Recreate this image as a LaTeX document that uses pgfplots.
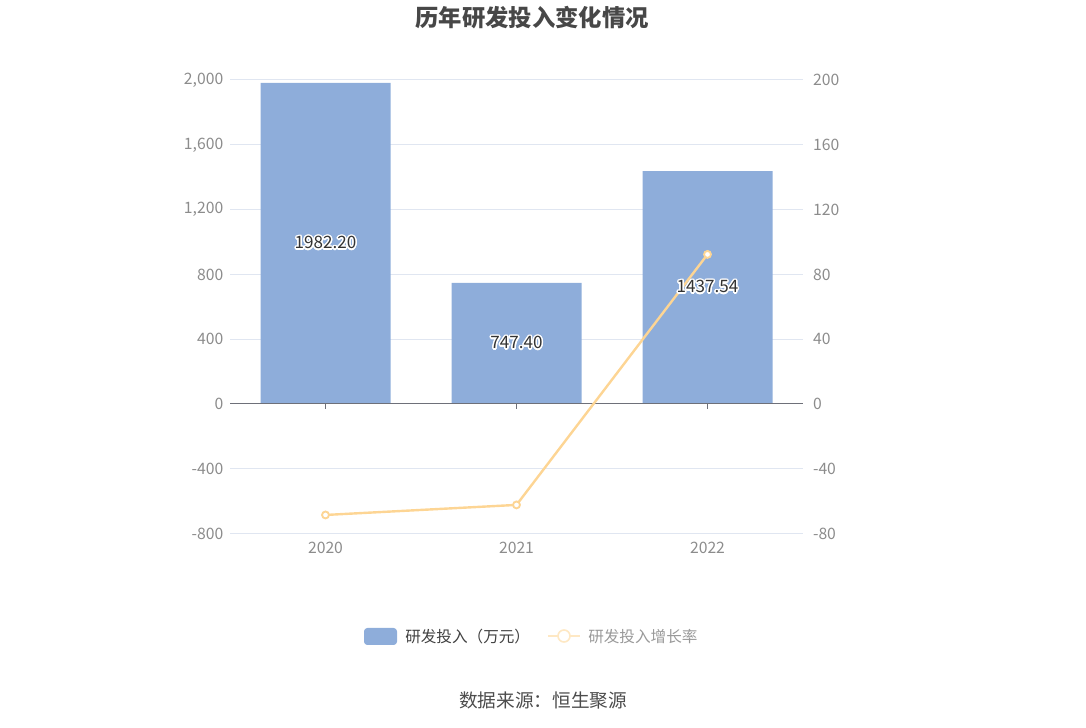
\documentclass[border=0pt]{standalone}
\usepackage{fontspec}
\setmainfont{Noto Sans CJK SC}
\usepackage{pgfplots}
\pgfplotsset{compat=1.18}
\usepackage{contour}
\contourlength{1.1pt}
\contournumber{16}

\definecolor{barblue}{HTML}{8EADDA}
\definecolor{lineorange}{HTML}{FDD594}
\definecolor{gridc}{HTML}{E0E6F1}
\definecolor{tickc}{HTML}{8C8C8C}
\definecolor{axisc}{HTML}{6E7079}

\begin{document}
\begin{tikzpicture}
\path[use as bounding box] (0pt,0pt) rectangle (814.5pt,546pt);

% title
\node[font=\bfseries\fontsize{17.5}{20}\selectfont, text=black!72] at (399pt,532.5pt) {历年研发投入变化情况};

% left axis: bars
\begin{axis}[
    at={(172.5pt,145.8pt)}, anchor=south west,
    scale only axis, width=429.75pt, height=340.2pt,
    xmin=-0.5, xmax=2.5,
    ymin=-800, ymax=2000,
    xtick={0,1,2}, xticklabels={2020,2021,2022},
    ytick={-800,-400,...,2000},
    axis line style={draw=none},
    major tick length=0pt,
    ymajorgrids, grid style={color=gridc, line width=0.75pt},
    tick label style={font=\fontsize{11.8}{13}\selectfont, text=tickc},
    /pgf/number format/assume math mode=true,
    /pgf/number format/1000 sep={,},
    yticklabel style={xshift=-1.5pt},
    xticklabel style={yshift=-2.5pt},
    clip=false,
]
\addplot[ybar, bar width=97.5pt, fill=barblue, draw=none]
    coordinates {(0,1982.20) (1,747.40) (2,1437.54)};
\draw[color=axisc, line width=0.75pt] (axis cs:-0.5,0) -- (axis cs:2.5,0);
\draw[color=axisc, line width=0.75pt] (axis cs:0,0) -- ++(0pt,-3.75pt);
\draw[color=axisc, line width=0.75pt] (axis cs:1,0) -- ++(0pt,-3.75pt);
\draw[color=axisc, line width=0.75pt] (axis cs:2,0) -- ++(0pt,-3.75pt);
\end{axis}

% right axis: growth rate and bar labels
\begin{axis}[
    at={(172.5pt,145.8pt)}, anchor=south west,
    scale only axis, width=429.75pt, height=340.2pt,
    xmin=-0.5, xmax=2.5,
    ymin=-80, ymax=200,
    ytick={-80,-40,...,200},
    axis y line*=right,
    axis x line=none,
    axis line style={draw=none},
    major tick length=0pt,
    tick label style={font=\fontsize{11.8}{13}\selectfont, text=tickc},
    /pgf/number format/assume math mode=true,
    yticklabel style={anchor=west, xshift=4pt},
    clip=false,
]
\addplot[color=lineorange, line width=1.8pt, mark=*,
    mark options={fill=white, draw=lineorange, line width=1.4pt}, mark size=2.6pt]
    coordinates {(0,-68.5) (1,-62.29) (2,92.34)};
% bar value labels, placed at half the bar height (right-axis units = left/10)
\addplot[draw=none, mark=none, nodes near coords, point meta=explicit symbolic,
    nodes near coords style={anchor=center, font=\fontsize{12.8}{14}\selectfont, text=black!80},
    nodes near coords={\contour{white}{\pgfplotspointmeta}}]
    coordinates {(0,99.11)[1982.20] (1,37.37)[747.40] (2,71.88)[1437.54]};
\end{axis}

% legend
\fill[barblue, rounded corners=2.5pt] (273pt,62.25pt) rectangle (297.75pt,75pt);
\node[anchor=west, font=\fontsize{11.7}{13}\selectfont, text=black!75, inner sep=0pt] at (303.75pt,68.6pt) {研发投入（万元）};
\draw[lineorange!55, line width=1.4pt] (411pt,69pt) -- (435pt,69pt);
\draw[lineorange!55, fill=white, line width=1.2pt] (423pt,69pt) circle (4.5pt);
\node[anchor=west, font=\fontsize{11.7}{13}\selectfont, text=black!40, inner sep=0pt] at (441pt,68.6pt) {研发投入增长率};

% source
\node[font=\fontsize{14}{16}\selectfont, text=black!70] at (407.25pt,21pt) {数据来源：恒生聚源};
\end{tikzpicture}
\end{document}
